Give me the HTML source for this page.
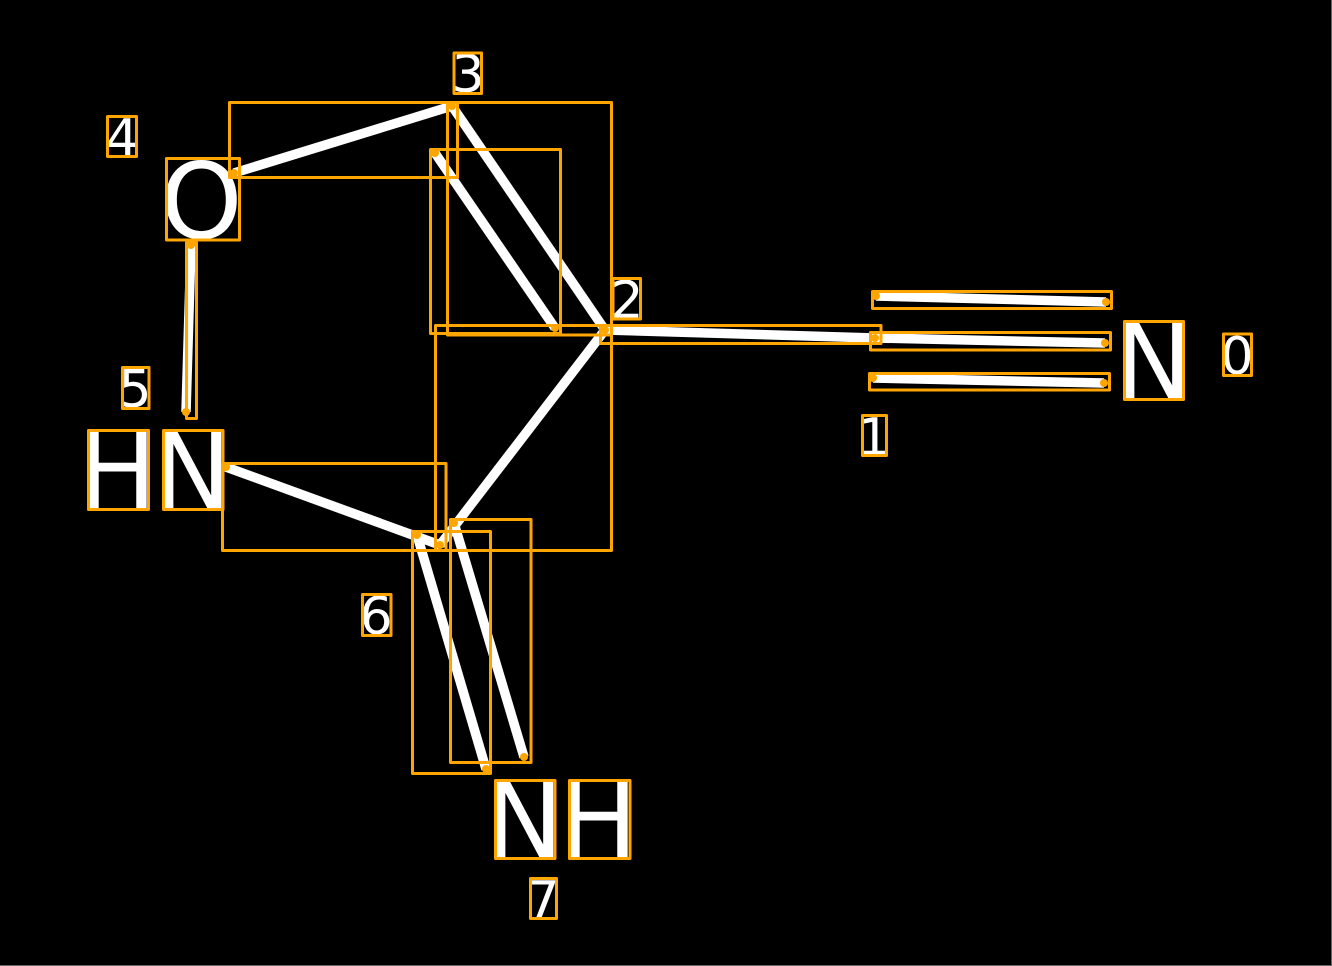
<!DOCTYPE html>
<html>
<head>
<meta charset="utf-8">
<style>
html,body{margin:0;padding:0;background:#000;width:1332px;height:966px;overflow:hidden}
svg{display:block}
text{font-family:"DejaVu Sans","Liberation Sans",sans-serif;fill:#fff}
.d{font-size:52px;text-anchor:middle}
.a{font-size:105px}
.b line{stroke:#fff;stroke-width:9.5;stroke-linecap:butt}
.r rect{fill:none;stroke:#FFA500;stroke-width:3;stroke-linejoin:round}
.c circle{fill:#FFA500}
</style>
</head>
<body>
<svg width="1332" height="966" viewBox="0 0 1332 966" xmlns="http://www.w3.org/2000/svg">
<rect width="1332" height="966" fill="#000"/>
<rect x="1331" y="0" width="1" height="966" fill="#666"/>
<rect x="0" y="965" width="1332" height="1" fill="#666"/>
<g class="b">
<line x1="452" y1="106" x2="234" y2="173"/>
<line x1="452" y1="106" x2="605" y2="330"/>
<line x1="435" y1="153" x2="555" y2="328"/>
<line x1="605" y1="330" x2="875" y2="338"/>
<line x1="876" y1="296" x2="1106" y2="302"/>
<line x1="875" y1="338" x2="1105" y2="343"/>
<line x1="873" y1="378" x2="1104" y2="383"/>
<line x1="191" y1="245" x2="186" y2="412"/>
<line x1="226" y1="467" x2="440" y2="545"/>
<line x1="605" y1="330" x2="440" y2="545"/>
<line x1="417" y1="535" x2="486" y2="769"/>
<line x1="454" y1="523" x2="524" y2="757"/>
</g>
<text class="a" x="160" y="238">O</text>
<text class="a" x="1114" y="398">N</text>
<text class="a" x="78" y="508">H</text>
<text class="a" x="153" y="508">N</text>
<text class="a" x="485" y="857">N</text>
<text class="a" x="559" y="857">H</text>
<text class="d" x="468" y="92">3</text>
<text class="d" x="122" y="156">4</text>
<text class="d" x="627" y="318">2</text>
<text class="d" x="1237" y="374">0</text>
<text class="d" x="874" y="455">1</text>
<text class="d" x="135" y="407">5</text>
<text class="d" x="376" y="634">6</text>
<text class="d" x="543" y="918">7</text>
<g class="r">
<rect x="454" y="53" width="27.500" height="40.500"/>
<rect x="107.500" y="116.500" width="29" height="40"/>
<rect x="613" y="278.500" width="27.500" height="40.500"/>
<rect x="1223.500" y="334" width="28" height="41.500"/>
<rect x="862.500" y="415.500" width="24" height="40"/>
<rect x="122.500" y="367.500" width="26.500" height="41"/>
<rect x="362.500" y="594.500" width="28.500" height="41"/>
<rect x="530.500" y="878.500" width="26" height="40"/>
<rect x="166.500" y="158.500" width="73" height="81.500"/>
<rect x="1124.500" y="321.500" width="59" height="78"/>
<rect x="88.500" y="430.500" width="60" height="79"/>
<rect x="163.500" y="430.500" width="59.500" height="79"/>
<rect x="495.500" y="780.500" width="59.500" height="78"/>
<rect x="569.500" y="780.500" width="60.500" height="78"/>
<rect x="229.500" y="102.500" width="228" height="75"/>
<rect x="447.500" y="102.500" width="164" height="232.500"/>
<rect x="430.500" y="149.500" width="130" height="184"/>
<rect x="600.500" y="325.500" width="280.500" height="18"/>
<rect x="872.500" y="291.500" width="239" height="17"/>
<rect x="870.500" y="332.500" width="240" height="17.500"/>
<rect x="869.500" y="373.500" width="240" height="16.500"/>
<rect x="186.500" y="242.500" width="10" height="176"/>
<rect x="222.500" y="463.500" width="223.500" height="87"/>
<rect x="435.500" y="325.500" width="176" height="225"/>
<rect x="412.500" y="531.500" width="78" height="242"/>
<rect x="450.500" y="519.500" width="80.500" height="243"/>
</g>
<g class="c">
<circle cx="452" cy="106" r="4"/>
<circle cx="234" cy="173" r="4"/>
<circle cx="605" cy="330" r="4"/>
<circle cx="435" cy="153" r="4"/>
<circle cx="555" cy="328" r="4"/>
<circle cx="875" cy="338" r="4"/>
<circle cx="876" cy="296" r="4"/>
<circle cx="1106" cy="302" r="4"/>
<circle cx="1105" cy="343" r="4"/>
<circle cx="873" cy="378" r="4"/>
<circle cx="1104" cy="383" r="4"/>
<circle cx="191" cy="245" r="4"/>
<circle cx="186" cy="412" r="4"/>
<circle cx="226" cy="467" r="4"/>
<circle cx="440" cy="545" r="4"/>
<circle cx="417" cy="535" r="4"/>
<circle cx="486" cy="769" r="4"/>
<circle cx="454" cy="523" r="4"/>
<circle cx="524" cy="757" r="4"/>
</g>
</svg>
</body>
</html>
